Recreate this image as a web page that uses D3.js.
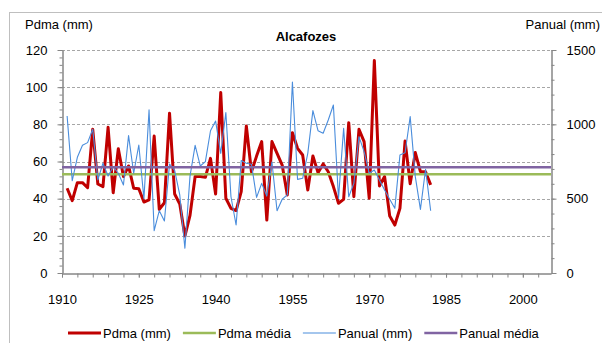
<!DOCTYPE html>
<html>
<head>
<meta charset="utf-8">
<script src="https://cdn.jsdelivr.net/npm/d3@7"></script>
<style>
  body { margin: 0; background: #fff; }
  svg text { font-family: "Liberation Sans", Arial, sans-serif; fill: #000; }
</style>
</head>
<body>
<svg id="chart" width="602" height="343"></svg>
<script>
// Alcafozes - Pdma and annual rainfall per year
const years = [1911, 1912, 1913, 1914, 1915, 1916, 1917, 1918, 1919, 1920,
  1921, 1922, 1923, 1924, 1925, 1926, 1927, 1928, 1929, 1930,
  1931, 1932, 1933, 1934, 1935, 1936, 1937, 1938, 1939, 1940,
  1941, 1942, 1943, 1944, 1945, 1946, 1947, 1948, 1949, 1950,
  1951, 1952, 1953, 1954, 1955, 1956, 1957, 1958, 1959, 1960,
  1961, 1962, 1963, 1964, 1965, 1966, 1967, 1968, 1969, 1970,
  1971, 1972, 1973, 1974, 1975, 1976, 1977, 1978, 1979, 1980,
  1981, 1982];
const pdma = [45.6, 38.9, 48.6, 48.6, 45.9, 77.3, 47.9, 46.5, 78.4, 43.2,
  66.9, 51.9, 57.6, 45.6, 45.3, 38.2, 39.3, 73.7, 34.2, 37.8,
  86.0, 42.5, 37.1, 19.9, 31.0, 51.9, 51.9, 51.5, 61.7, 42.5,
  97.1, 40.2, 34.8, 33.6, 43.8, 79.1, 54.5, 62.9, 70.7, 28.5,
  70.7, 64.4, 58.1, 42.0, 75.5, 67.1, 63.5, 44.7, 63.0, 54.0,
  58.7, 54.5, 46.5, 37.5, 39.6, 80.9, 41.1, 77.3, 70.7, 40.2,
  114.3, 46.8, 51.9, 30.7, 25.8, 34.8, 71.0, 48.0, 64.8, 54.5,
  54.5, 47.4];
const panual = [1056, 621, 778, 859, 877, 967, 626, 738, 652, 715,
  671, 592, 924, 671, 861, 500, 1097, 285, 419, 350,
  733, 690, 525, 166, 652, 859, 720, 749, 957, 1022,
  805, 1079, 513, 323, 756, 738, 731, 509, 603, 518,
  747, 419, 496, 525, 1285, 630, 637, 805, 1092, 957,
  940, 1029, 1130, 502, 973, 513, 603, 917, 816, 671,
  693, 626, 558, 496, 435, 794, 809, 1052, 648, 428,
  698, 419];
const pdmaMedia = [53.1];
const panualMedia = [712];

const xTicks = [1910, 1925, 1940, 1955, 1970, 1985, 2000];
const leftTicks = [0, 20, 40, 60, 80, 100, 120];
const rightTicks = [0, 500, 1000, 1500];
const legendNames = ['Pdma (mm)', 'Pdma média', 'Panual (mm)', 'Panual média'];

const svg = d3.select('#chart');
const plot = { left: 62, right: 551, top: 50, bottom: 273 };
const axisColor = '#868686';

const x = d3.scaleLinear().domain([1910, 2005.5]).range([plot.left, plot.right]);
const yL = d3.scaleLinear().domain([0, 120]).range([plot.bottom, plot.top]);
const yR = d3.scaleLinear().domain([0, 1500]).range([plot.bottom, plot.top]);

// outer chart frame
svg.append('rect').attr('x', 9.5).attr('y', 12.5).attr('width', 700).attr('height', 400)
  .attr('fill', 'none').attr('stroke', '#bfbfbf');

// dashed gridlines
svg.append('g').selectAll('line').data(leftTicks.filter(d => d > 0)).enter().append('line')
  .attr('x1', plot.left).attr('x2', plot.right)
  .attr('y1', d => Math.round(yL(d)) + 0.5).attr('y2', d => Math.round(yL(d)) + 0.5)
  .attr('stroke', '#a6a6a6').attr('stroke-dasharray', '3,2');

function styleAxis(g) {
  g.select('.domain').attr('stroke', axisColor);
  g.selectAll('.tick line').attr('stroke', axisColor);
  g.selectAll('.tick text').attr('font-size', 13);
}

// minor ticks
svg.append('g').attr('transform', `translate(${plot.left + 0.5},0)`)
  .call(d3.axisLeft(yL).tickValues(d3.range(0, 121, 4)).tickSize(3).tickSizeOuter(0).tickFormat(''))
  .call(styleAxis);
svg.append('g').attr('transform', `translate(${plot.right + 0.5},0)`)
  .call(d3.axisRight(yR).tickValues(d3.range(0, 1501, 100)).tickSize(3).tickSizeOuter(0).tickFormat(''))
  .call(styleAxis);
svg.append('g').attr('transform', `translate(0,${plot.bottom + 0.5})`)
  .call(d3.axisBottom(x).tickValues(d3.range(1910, 2005, 3)).tickSize(4).tickSizeOuter(0).tickFormat(''))
  .call(styleAxis);

// major axes
svg.append('g').attr('transform', `translate(${plot.left + 0.5},0)`)
  .call(d3.axisLeft(yL).tickValues(leftTicks).tickSize(5).tickSizeOuter(0).tickPadding(10).tickFormat(d3.format('d')))
  .call(styleAxis);
svg.append('g').attr('transform', `translate(${plot.right + 0.5},0)`)
  .call(d3.axisRight(yR).tickValues(rightTicks).tickSize(5).tickSizeOuter(0).tickPadding(10).tickFormat(d3.format('d')))
  .call(styleAxis);
svg.append('g').attr('transform', `translate(0,${plot.bottom + 0.5})`)
  .call(d3.axisBottom(x).tickValues(xTicks).tickSize(4).tickSizeOuter(0).tickPadding(17).tickFormat(d3.format('d')))
  .call(styleAxis);

// titles
svg.append('text').attr('x', 25).attr('y', 29).attr('font-size', 13).text('Pdma (mm)');
svg.append('text').attr('x', 600).attr('y', 29).attr('font-size', 13).attr('text-anchor', 'end').text('Panual (mm)');
svg.append('text').attr('x', 306).attr('y', 41).attr('font-size', 13).attr('font-weight', 'bold')
  .attr('text-anchor', 'middle').text('Alcafozes');

// series
const rows = years.map((yr, i) => ({ year: yr, pdma: pdma[i], panual: panual[i] }));

svg.append('path').datum(rows)
  .attr('d', d3.line().x(d => x(d.year)).y(d => yL(d.pdma)))
  .attr('fill', 'none').attr('stroke', '#c00000').attr('stroke-width', 3).attr('stroke-linejoin', 'round');

svg.append('g').selectAll('line').data(pdmaMedia).enter().append('line')
  .attr('x1', plot.left).attr('x2', plot.right).attr('y1', d => yL(d)).attr('y2', d => yL(d))
  .attr('stroke', '#9bbb59').attr('stroke-width', 2.5);

svg.append('path').datum(rows)
  .attr('d', d3.line().x(d => x(d.year)).y(d => yR(d.panual)))
  .attr('fill', 'none').attr('stroke', '#4a8ddc').attr('stroke-width', 1.1).attr('stroke-linejoin', 'round');

svg.append('g').selectAll('line').data(panualMedia).enter().append('line')
  .attr('x1', plot.left).attr('x2', plot.right).attr('y1', d => yR(d)).attr('y2', d => yR(d))
  .attr('stroke', '#8064a2').attr('stroke-width', 2.5);

// legend
const legendStyle = [
  { color: '#c00000', width: 3 },
  { color: '#9bbb59', width: 2.5 },
  { color: '#4a8ddc', width: 1.1 },
  { color: '#8064a2', width: 2.5 },
];
let lx = 68;
const ly = 333;
legendNames.forEach((name, i) => {
  const g = svg.append('g');
  g.append('line').attr('x1', lx).attr('x2', lx + 33).attr('y1', ly).attr('y2', ly)
    .attr('stroke', legendStyle[i].color).attr('stroke-width', legendStyle[i].width);
  const t = g.append('text').attr('x', lx + 35).attr('y', ly + 4.5).attr('font-size', 13).text(name);
  lx += 35 + t.node().getComputedTextLength() + 12;
});
</script>
</body>
</html>
